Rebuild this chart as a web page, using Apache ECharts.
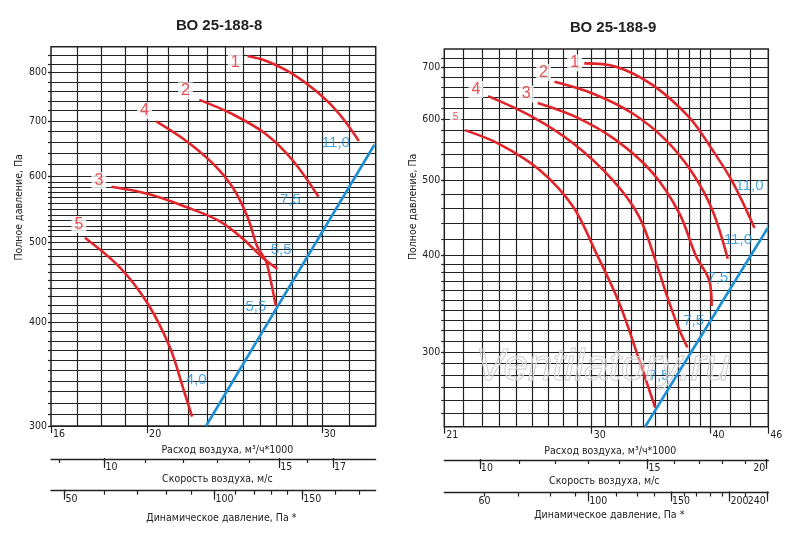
<!DOCTYPE html>
<html>
<head>
<meta charset="utf-8">
<script src="https://cdn.jsdelivr.net/npm/echarts@6.0.0/dist/echarts.min.js"></script>
<style>
html, body { margin: 0; padding: 0; background: #fff; }
#chart { width: 800px; height: 542px; }
</style>
</head>
<body>
<div id="chart"></div>
<script>
// ---- ВО 25-188-8 (left) ----
var leftFlowRange = [16, 34];
var leftFlowGrid = [17, 18, 19, 20, 21, 22, 23, 24, 25, 26, 27, 28, 29, 30, 32];
var leftFlowLabels = [16, 20, 30];
var leftPressRange = [300, 860];
var leftPressGrid = [310, 320, 330, 340, 350, 360, 370, 380, 390, 400, 410, 420, 430, 440, 450,
    460, 470, 480, 490, 500, 508, 516, 523, 531, 539, 548, 557, 566, 574, 582, 590,
    600, 620, 640, 660, 680, 700, 720, 740, 760, 780, 800, 820, 840];
var leftPressLabels = [300, 400, 500, 600, 700, 800];
var leftSpeedRange = [8.83, 18.77];
var leftSpeedTicks = [9, 10, 11, 12, 13, 14, 15, 16, 17];
var leftSpeedLabels = [10, 15, 17];
var leftDynRange = [47.0, 210.7];
var leftDynTicks = [50, 60, 70, 80, 90, 100, 110, 120, 130, 140, 150, 175, 195];
var leftDynLabels = [50, 100, 150];

var leftCurve1 = [[25.25, 838], [26.34, 827], [28.05, 797], [29.85, 754], [31.26, 713], [32.7, 662]];
var leftCurve2 = [[22.58, 742], [24.39, 713], [26.34, 675], [28.05, 627], [29.77, 567]];
var leftCurve3 = [[18.41, 583], [20.11, 571], [21.9, 551], [23.65, 530], [24.96, 505], [26.14, 479], [27.06, 464]];
var leftCurve4 = [[20.43, 699], [21.9, 662], [23.29, 622], [24.39, 582], [25.25, 536], [25.84, 493], [26.34, 475], [26.65, 449], [26.96, 419]];
var leftCurve5 = [[17.31, 506], [18.77, 466], [20.04, 421], [21.07, 374], [21.73, 334], [22.2, 308]];
var leftSystem = [[22.93, 300], [33.9, 655]];
var leftCurveNames = [['1', 24.54, 824], ['2', 21.86, 761], ['4', 19.88, 720], ['3', 17.88, 593], ['5', 17.07, 525]];
var leftPowers = [['11,0', 31.0, 659], ['7,5', 27.9, 562], ['5,5', 27.3, 489], ['5,5', 25.74, 418], ['4,0', 22.41, 341]];

// ---- ВО 25-188-9 (right) ----
var rightFlowRange = [21, 46];
var rightFlowGrid = [22, 23, 24, 25, 26, 27, 28, 29, 30, 31, 32, 33, 34, 35, 36, 37, 38, 39, 40, 42, 44];
var rightFlowLabels = [21, 30, 40, 46];
var rightPressRange = [240, 740];
var rightPressGrid = [250, 260, 270, 280, 290, 300, 310, 320, 330, 340, 350, 360, 370, 380, 390,
    400, 420, 440, 460, 480, 500, 520, 540, 560, 580, 600, 620, 640, 660, 680, 700, 720];
var rightPressLabels = [300, 400, 500, 600, 700];
var rightSpeedRange = [9.175, 20.1];
var rightSpeedTicks = [10, 11, 12, 13, 14, 15, 16, 17, 18, 19, 20];
var rightSpeedLabels = [10, 15, 20];
var rightDynRange = [49.4, 241.8];
var rightDynTicks = [60, 71, 83, 94, 100, 115, 127, 138, 150, 160, 170, 182, 193, 200, 216, 240];
var rightDynLabels = [60, 100, 150, 200, 240];

var rightCurve1 = [[29.47, 709], [31.82, 702], [34.75, 665], [37.97, 604], [40.17, 548], [42.22, 497], [44.49, 434]];
var rightCurve2 = [[27.42, 671], [30.07, 648], [33.1, 611], [35.9, 564], [38.26, 512], [40.17, 458], [41.7, 396]];
var rightCurve3 = [[26.33, 630], [28.9, 604], [31.82, 564], [34.75, 512], [37.07, 454], [38.62, 399], [39.85, 372], [40.11, 344]];
var rightCurve4 = [[23.35, 643], [26.02, 604], [28.66, 559], [31.55, 501], [33.65, 449], [35.17, 387], [35.9, 358], [36.95, 324], [37.82, 304]];
var rightCurve5 = [[22.07, 581], [24.02, 557], [26.45, 516], [28.66, 463], [30.32, 403], [32.07, 347], [33.65, 293], [34.98, 254]];
var rightSystem = [[34.14, 240], [45.94, 434]];
var rightCurveNames = [['1', 28.79, 710], ['2', 26.7, 690], ['4', 22.67, 656], ['3', 25.61, 647], ['5', 21.58, 604]];
var rightPowers = [['11,0', 43.96, 492], ['11,0', 42.74, 419], ['7,5', 40.7, 374], ['7,5', 38.4, 329], ['7,5', 35.31, 279]];

var FONT = "'Liberation Sans Narrow', 'Arial Narrow', 'DejaVu Sans Condensed', sans-serif";
var INK = '#222';
var RED = '#e2252b';
var BLUE = '#1d8fd3';

var panels = [{
    title: 'ВО 25-188-8', titleLeft: 171, titleTop: 13,
    box: {left: 51, top: 46.7, width: 324.7, height: 379.3},
    speedTop: 458, dynTop: 489.7,
    flow: leftFlowRange, flowGrid: leftFlowGrid, flowLabels: leftFlowLabels,
    press: leftPressRange, pressGrid: leftPressGrid, pressLabels: leftPressLabels,
    speed: leftSpeedRange, speedTicks: leftSpeedTicks, speedLabels: leftSpeedLabels,
    dyn: leftDynRange, dynTicks: leftDynTicks, dynLabels: leftDynLabels,
    curves: [leftCurve1, leftCurve2, leftCurve3, leftCurve4, leftCurve5], system: leftSystem,
    names: leftCurveNames, powers: leftPowers,
    shifts: {flow: 14, speed: 4, dyn: 8, press: 29}, gaps: {flow: 15, speed: 15, dyn: 22, press: 26},
    speedEndRight: false, dynStartCenter: false, dynEndRight: false
}, {
    title: 'ВО 25-188-9', titleLeft: 565, titleTop: 15,
    box: {left: 444.3, top: 49, width: 324, height: 377.7},
    speedTop: 459, dynTop: 491.5,
    flow: rightFlowRange, flowGrid: rightFlowGrid, flowLabels: rightFlowLabels,
    press: rightPressRange, pressGrid: rightPressGrid, pressLabels: rightPressLabels,
    speed: rightSpeedRange, speedTicks: rightSpeedTicks, speedLabels: rightSpeedLabels,
    dyn: rightDynRange, dynTicks: rightDynTicks, dynLabels: rightDynLabels,
    curves: [rightCurve1, rightCurve2, rightCurve3, rightCurve4, rightCurve5], system: rightSystem,
    names: rightCurveNames, powers: rightPowers,
    shifts: {flow: 4, speed: -2, dyn: 3, press: 31}, gaps: {flow: 16, speed: 16, dyn: 17, press: 24},
    speedEndRight: true, dynStartCenter: true, dynEndRight: true
}];

var tickLine = {color: INK, width: 1.2};
var textBase = {fontFamily: FONT, fontSize: 10.5, color: INK};
var nameBase = {fontFamily: FONT, fontSize: 10.5, color: INK};

function logAxis(range, gridIndex, position) {
    return {
        type: 'log', logBase: 10, min: range[0], max: range[1],
        gridIndex: gridIndex, position: position,
        axisLine: {show: false}, axisTick: {show: false}, axisLabel: {show: false},
        splitLine: {show: false}, minorTick: {show: false}, minorSplitLine: {show: false}
    };
}

function labelStyle(extra) {
    return Object.assign({show: true, showMinLabel: true, showMaxLabel: true, hideOverlap: false}, textBase, extra);
}

function nameStyle(shift) {
    var s = Object.assign({}, nameBase);
    s.padding = shift >= 0 ? [0, 0, 0, shift * 2] : [0, -shift * 2, 0, 0];
    return s;
}

var option = {
    animation: false,
    backgroundColor: '#fff',
    title: [], grid: [], xAxis: [], yAxis: [], series: [],
    graphic: [{
        type: 'text', x: 603, y: 368, z: 100, silent: true,
        style: {
            text: 'Ventilatory.ru', font: 'italic 44px "Liberation Sans", sans-serif',
            align: 'center', verticalAlign: 'middle',
            fill: 'rgba(255,255,255,0.35)', stroke: '#c4c4c4', lineWidth: 1
        }
    }]
};

// a thin strip under the chart carrying one extra scale (speed or dynamic pressure)
function addScale(p, gi, top, range, ticks, labels, name, gap, shift, startCenter, endRight) {
    option.grid.push({left: p.box.left, width: p.box.width, top: top, height: 1, show: false, outerBoundsMode: 'none'});
    var a = logAxis(range, gi, 'bottom');
    a.axisLine = {show: true, lineStyle: {color: INK, width: 1.3}};
    a.axisTick = {show: true, customValues: ticks, length: 4, lineStyle: tickLine};
    a.name = name;
    a.nameLocation = 'middle';
    a.nameGap = gap;
    a.nameTextStyle = nameStyle(shift);
    option.xAxis.push(a);

    // long ticks + labels; the last label may sit left of its tick, on its own axis
    var main = endRight ? labels.slice(0, -1) : labels;
    var longTicks = startCenter ? labels.slice(1) : labels;
    var b = logAxis(range, gi, 'top');
    b.axisTick = {show: true, inside: true, customValues: longTicks, length: 10, lineStyle: tickLine};
    b.axisLabel = labelStyle({inside: true, customValues: main, align: 'left', margin: 4, padding: [0, 0, 0, 1]});
    if (startCenter) b.axisLabel.alignMinLabel = 'center';
    option.xAxis.push(b);
    if (endRight) {
        var c = logAxis(range, gi, 'top');
        c.axisLabel = labelStyle({inside: true, customValues: labels.slice(-1), align: 'right', margin: 4, padding: [0, 1, 0, 0]});
        option.xAxis.push(c);
    }
    option.yAxis.push({type: 'value', gridIndex: gi, show: false});
}

panels.forEach(function (p) {
    var g0 = option.grid.length;
    var x0 = option.xAxis.length;
    var y0 = option.yAxis.length;

    option.title.push({
        text: p.title, left: p.titleLeft, top: p.titleTop,
        textStyle: {fontFamily: "'Liberation Sans', Arial, sans-serif", fontSize: 15, fontWeight: 'bold', color: INK}
    });

    option.grid.push(Object.assign({
        show: true, borderColor: INK, borderWidth: 1.5, backgroundColor: 'transparent', outerBoundsMode: 'none'
    }, p.box));

    // flow axis with its few labelled ticks
    var xl = logAxis(p.flow, g0, 'bottom');
    xl.axisTick = {show: true, customValues: p.flowLabels, length: 7, lineStyle: tickLine};
    xl.axisLabel = labelStyle({customValues: p.flowLabels, align: 'left', margin: 3, padding: [0, 0, 0, 2]});
    xl.name = 'Расход воздуха, м³/ч*1000';
    xl.nameLocation = 'middle';
    xl.nameGap = p.gaps.flow;
    xl.nameTextStyle = nameStyle(p.shifts.flow);
    // flow axis that only carries the vertical grid lines
    var xg = logAxis(p.flow, g0, 'top');
    xg.axisTick = {show: false, customValues: p.flowGrid};
    xg.splitLine = {show: true, lineStyle: tickLine};
    option.xAxis.push(xl, xg);

    var ym = logAxis(p.press, g0, 'left');
    ym.axisTick = {show: true, customValues: p.pressGrid.concat(p.pressLabels), length: 3, lineStyle: tickLine};
    ym.splitLine = {show: true, lineStyle: tickLine};
    ym.axisLabel = labelStyle({customValues: p.pressLabels, margin: 4});
    ym.name = 'Полное давление, Па';
    ym.nameLocation = 'middle';
    ym.nameRotate = 90;
    ym.nameGap = p.gaps.press;
    ym.nameTextStyle = nameStyle(p.shifts.press);
    option.yAxis.push(ym);

    addScale(p, g0 + 1, p.speedTop, p.speed, p.speedTicks, p.speedLabels,
        'Скорость воздуха, м/с', p.gaps.speed, p.shifts.speed, false, p.speedEndRight);
    addScale(p, g0 + 2, p.dynTop, p.dyn, p.dynTicks, p.dynLabels,
        'Динамическое давление, Па *', p.gaps.dyn, p.shifts.dyn, p.dynStartCenter, p.dynEndRight);

    p.curves.forEach(function (c) {
        option.series.push({
            type: 'line', xAxisIndex: x0, yAxisIndex: y0, data: c, smooth: 0.35,
            symbol: 'none', lineStyle: {color: RED, width: 2.6}, z: 3
        });
    });
    option.series.push({
        type: 'line', xAxisIndex: x0, yAxisIndex: y0, data: p.system,
        symbol: 'none', lineStyle: {color: BLUE, width: 2.6}, z: 3
    });
    option.series.push({
        type: 'scatter', xAxisIndex: x0, yAxisIndex: y0, symbolSize: 1, z: 5,
        itemStyle: {color: 'transparent'},
        data: p.names.map(function (n) {
            return {name: n[0], value: [n[1], n[2]], label: n[0] === '5' && p === panels[1] ? {fontSize: 10} : undefined};
        }),
        label: {
            show: true, position: 'inside', formatter: '{b}', color: RED,
            fontFamily: "'Liberation Sans', Arial, sans-serif", fontSize: 16,
            backgroundColor: '#fff', padding: [1, 3, 0, 3]
        }
    });
    option.series.push({
        type: 'scatter', xAxisIndex: x0, yAxisIndex: y0, symbolSize: 1, z: 5,
        itemStyle: {color: 'transparent'},
        data: p.powers.map(function (n) { return {name: n[0], value: [n[1], n[2]]}; }),
        label: {
            show: true, position: 'inside', formatter: '{b}', color: BLUE,
            fontFamily: "'Liberation Sans', Arial, sans-serif", fontSize: 15
        }
    });
});

var chart = echarts.init(document.getElementById('chart'));
chart.setOption(option);
</script>
</body>
</html>
